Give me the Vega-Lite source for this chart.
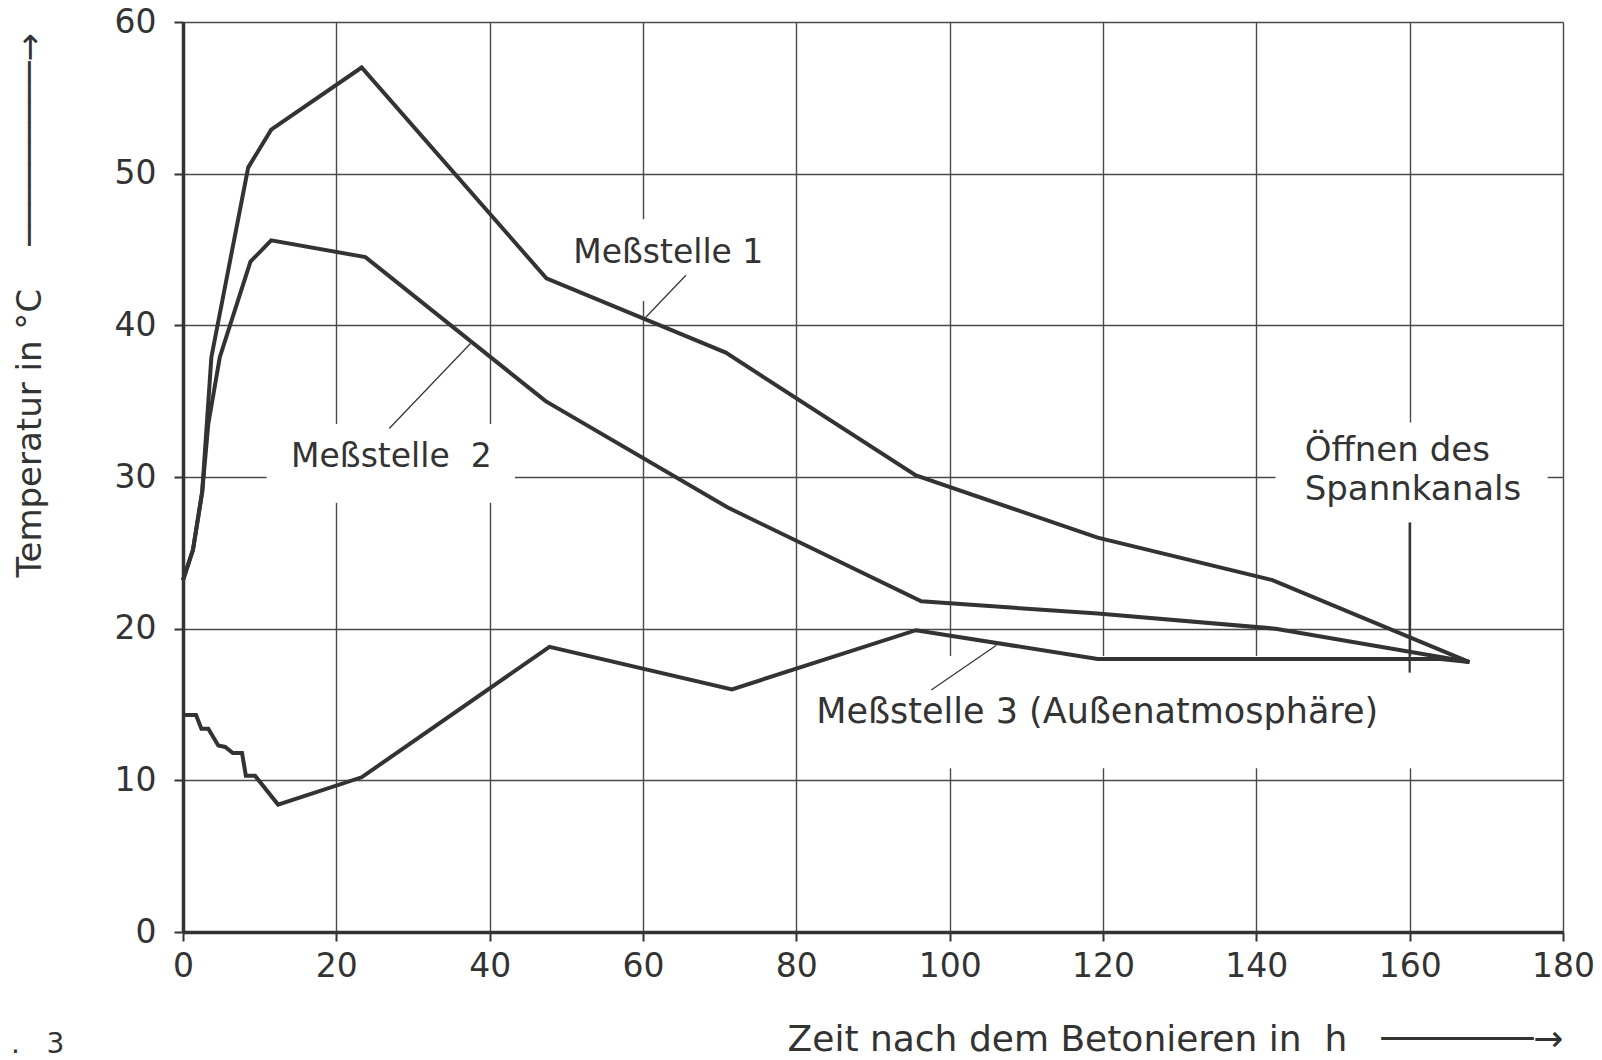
{
  "$schema": "https://vega.github.io/schema/vega-lite/v6.json",
  "width": 1380,
  "height": 910,
  "autosize": "none",
  "padding": {"left": 183, "top": 22, "right": 39, "bottom": 128},
  "background": "white",
  "title": {"text": ".\u00a0\u00a0\u00a03", "orient": "bottom", "anchor": "start", "frame": "bounds", "fontSize": 28, "fontWeight": "normal", "font": "DejaVu Sans", "color": "#333", "dx": -2, "dy": -30},
  "config": {
    "view": {"stroke": null},
    "font": "DejaVu Sans",
    "axis": {
      "grid": true,
      "gridColor": "#4a4a4a",
      "gridWidth": 1.4,
      "domainColor": "#333",
      "domainWidth": 3.5,
      "tickColor": "#333",
      "tickWidth": 2,
      "tickSize": 9,
      "labelFontSize": 33,
      "labelColor": "#333",
      "labelFont": "DejaVu Sans",
      "labelFlush": false,
      "titleFont": "DejaVu Sans",
      "titleFontWeight": "normal",
      "titleColor": "#333"
    }
  },
  "datasets": {
    "curves": [
      {"s": "1", "x": 0, "y": 23.2}, {"s": "1", "x": 1.3, "y": 25.2}, {"s": "1", "x": 2.5, "y": 29.0}, {"s": "1", "x": 3.7, "y": 37.9},
      {"s": "1", "x": 8.5, "y": 50.4}, {"s": "1", "x": 11.5, "y": 52.9}, {"s": "1", "x": 23.3, "y": 57.0}, {"s": "1", "x": 47.4, "y": 43.1},
      {"s": "1", "x": 70.8, "y": 38.2}, {"s": "1", "x": 95.6, "y": 30.1}, {"s": "1", "x": 119.3, "y": 26.0}, {"s": "1", "x": 142.1, "y": 23.2},
      {"s": "1", "x": 167.8, "y": 17.8},
      {"s": "2", "x": 0, "y": 23.2}, {"s": "2", "x": 1.3, "y": 25.2}, {"s": "2", "x": 2.5, "y": 29.0}, {"s": "2", "x": 3.3, "y": 33.5},
      {"s": "2", "x": 4.8, "y": 37.9}, {"s": "2", "x": 8.8, "y": 44.2}, {"s": "2", "x": 11.5, "y": 45.6}, {"s": "2", "x": 23.8, "y": 44.5},
      {"s": "2", "x": 47.3, "y": 35.0}, {"s": "2", "x": 71.0, "y": 28.0}, {"s": "2", "x": 96.3, "y": 21.8}, {"s": "2", "x": 119.3, "y": 21.0},
      {"s": "2", "x": 142.5, "y": 20.0}, {"s": "2", "x": 167.8, "y": 17.8},
      {"s": "3", "x": 0, "y": 14.3}, {"s": "3", "x": 1.7, "y": 14.3}, {"s": "3", "x": 2.4, "y": 13.4}, {"s": "3", "x": 3.3, "y": 13.4},
      {"s": "3", "x": 4.6, "y": 12.3}, {"s": "3", "x": 5.5, "y": 12.2}, {"s": "3", "x": 6.5, "y": 11.8}, {"s": "3", "x": 7.7, "y": 11.8},
      {"s": "3", "x": 8.2, "y": 10.3}, {"s": "3", "x": 9.4, "y": 10.3}, {"s": "3", "x": 12.4, "y": 8.4}, {"s": "3", "x": 23.3, "y": 10.2},
      {"s": "3", "x": 47.8, "y": 18.8}, {"s": "3", "x": 71.6, "y": 16.0}, {"s": "3", "x": 95.6, "y": 19.9}, {"s": "3", "x": 119.3, "y": 18.0},
      {"s": "3", "x": 164.0, "y": 18.0}, {"s": "3", "x": 167.8, "y": 17.8}
    ],
    "boxes": [
      {"x": 50.0, "x2": 76.5, "y": 41.6, "y2": 47.0},
      {"x": 10.9, "x2": 43.3, "y": 28.3, "y2": 33.5},
      {"x": 142.5, "x2": 178.0, "y": 27.0, "y2": 33.6},
      {"x": 82.3, "x2": 161.2, "y": 10.8, "y2": 18.2}
    ],
    "leaders": [
      {"x": 65.6, "y": 43.3, "x2": 60.3, "y2": 40.5, "w": "thin"},
      {"x": 26.9, "y": 33.2, "x2": 37.5, "y2": 38.8, "w": "thin"},
      {"x": 97.6, "y": 15.95, "x2": 106.1, "y2": 18.9, "w": "thin"},
      {"x": 160, "y": 27.0, "x2": 160, "y2": 17.1, "w": "thick"}
    ],
    "labels": [
      {"x": 50.9, "y": 44.1, "text": "Meßstelle 1", "size": "m"},
      {"x": 14.1, "y": 30.65, "text": "Meßstelle\u00a0\u00a02", "size": "m"},
      {"x": 82.6, "y": 13.8, "text": "Meßstelle 3 (Außenatmosphäre)", "size": "xl"},
      {"x": 146.3, "y": 31.07, "text": "Öffnen des", "size": "l"},
      {"x": 146.3, "y": 28.5, "text": "Spannkanals", "size": "l"}
    ]
  },
  "layer": [
    {
      "data": {"name": "boxes"},
      "mark": {"type": "rect", "color": "white"},
      "encoding": {
        "x": {"field": "x", "type": "quantitative", "scale": {"domain": [0, 180], "nice": false},
          "axis": {"values": [0, 20, 40, 60, 80, 100, 120, 140, 160, 180], "labelPadding": 9,
            "title": "Zeit nach dem Betonieren in\u00a0\u00a0h\u00a0\u00a0\u00a0───────→", "titleFontSize": 36,
            "titleAnchor": "end", "titleAlign": "right", "titleX": 1380, "titleY": 118, "titleBaseline": "alphabetic"}},
        "x2": {"field": "x2"},
        "y": {"field": "y", "type": "quantitative", "scale": {"domain": [0, 60], "nice": false},
          "axis": {"values": [0, 10, 20, 30, 40, 50, 60], "labelPadding": 18,
            "title": "Temperatur in °C\u00a0\u00a0\u00a0\u00a0─────────→", "titleFontSize": 34, "titleAngle": 270,
            "titleAlign": "left", "titleBaseline": "middle", "titleX": -153, "titleY": 555}},
        "y2": {"field": "y2"}
      }
    },
    {
      "data": {"name": "leaders"},
      "mark": {"type": "rule", "color": "#333"},
      "encoding": {
        "x": {"field": "x", "type": "quantitative"},
        "y": {"field": "y", "type": "quantitative"},
        "x2": {"field": "x2"},
        "y2": {"field": "y2"},
        "strokeWidth": {"field": "w", "type": "nominal", "scale": {"domain": ["thin", "thick"], "range": [1.2, 2.2]}, "legend": null}
      }
    },
    {
      "data": {"name": "curves"},
      "mark": {"type": "line", "color": "#333", "strokeWidth": 4},
      "encoding": {
        "x": {"field": "x", "type": "quantitative"},
        "y": {"field": "y", "type": "quantitative"},
        "detail": {"field": "s", "type": "nominal"}
      }
    },
    {
      "data": {"name": "labels"},
      "mark": {"type": "text", "align": "left", "baseline": "alphabetic", "color": "#333", "font": "DejaVu Sans"},
      "encoding": {
        "x": {"field": "x", "type": "quantitative"},
        "y": {"field": "y", "type": "quantitative"},
        "text": {"field": "text"},
        "size": {"field": "size", "type": "nominal", "scale": {"domain": ["m", "l", "xl"], "range": [33, 35, 36]}, "legend": null}
      }
    }
  ]
}
